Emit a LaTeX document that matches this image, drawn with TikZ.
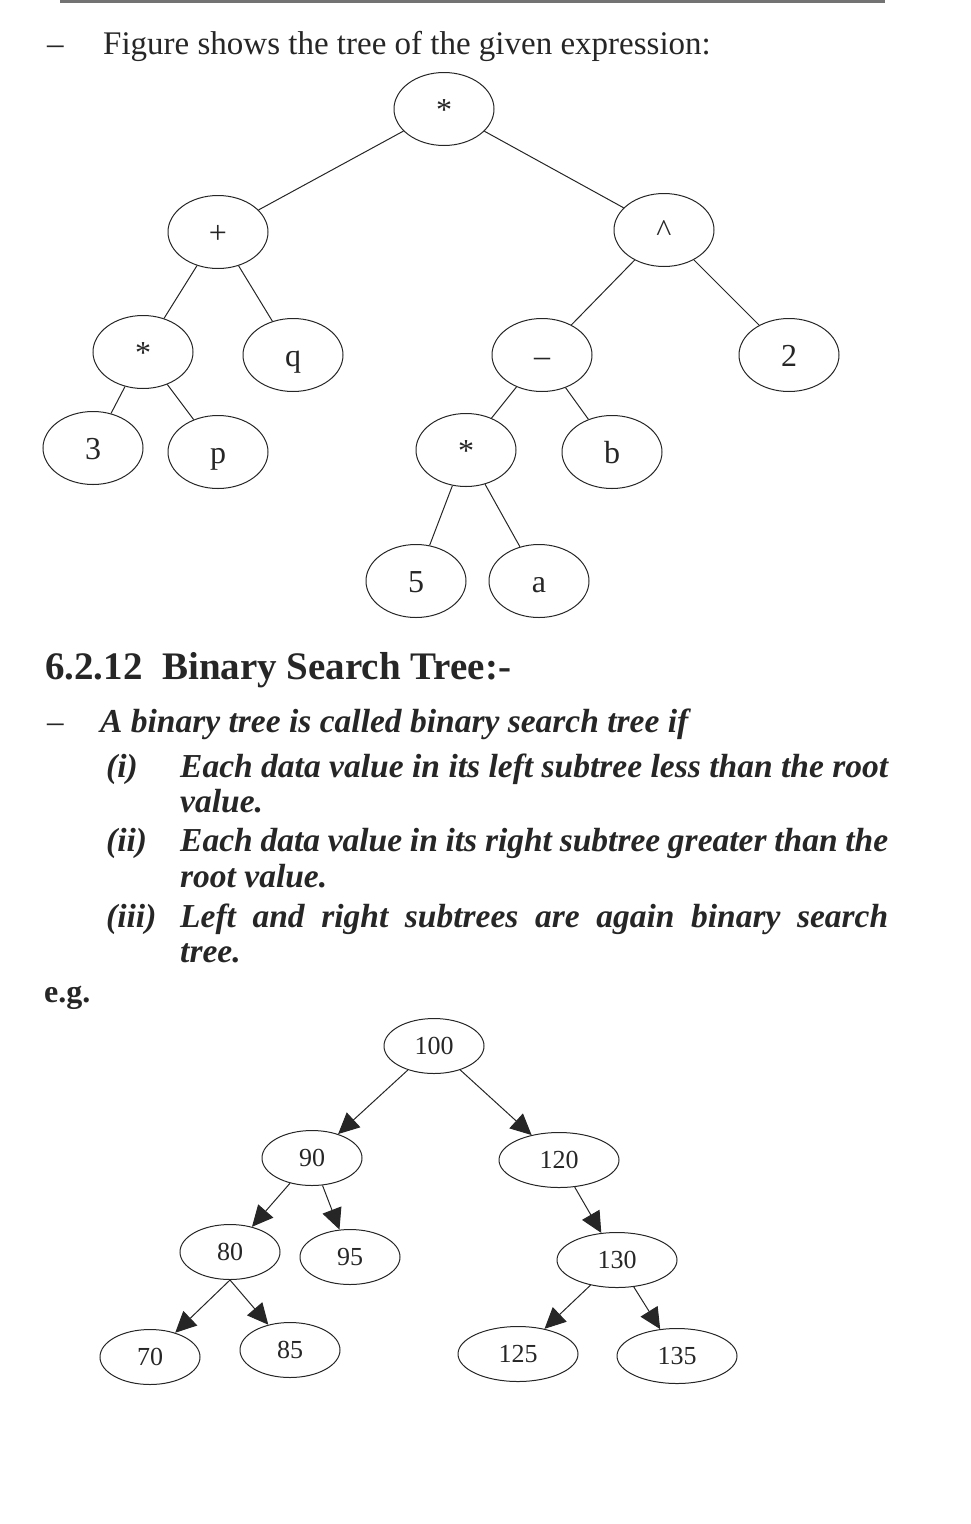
\documentclass[tikz,border=0pt]{standalone}
\usepackage{fontspec}
\setmainfont{Liberation Serif}
\usetikzlibrary{shapes.geometric,arrows.meta}

\begin{document}
\begin{tikzpicture}[x=1pt, y=-1pt, black!85,
  enode/.style={draw, ellipse, line width=1pt, minimum width=100pt, minimum height=73pt, inner sep=0pt, text height=22pt, text depth=0pt, font=\fontsize{32}{32}\selectfont},
  bnode/.style={draw, ellipse, line width=1pt, minimum width=100pt, minimum height=55pt, inner sep=0pt, font=\fontsize{26}{26}\selectfont},
  wnode/.style={bnode, minimum width=120pt},
  tline/.style={line width=1pt},
  barrow/.style={line width=1pt, -{Triangle[length=21pt,width=20pt]}},
  txt/.style={anchor=base west, inner sep=0pt, font=\fontsize{33}{33}\selectfont},
  itxt/.style={txt, font=\fontsize{33.5}{33.5}\selectfont\bfseries\itshape}
  ]
\useasboundingbox (0,0) rectangle (971,1524);
\draw[line width=3pt, black!55] (60,1) -- (885,1);

\node[txt] (dash1) at (47,54) {--};
\node[txt] (intro) at (103,54) {Figure shows the tree of the given expression:};

% expression tree
\node[enode] (r) at (444,109) {*};
\node[enode] (plus) at (218,232) {+};
\node[enode] (caret) at (664,230) {\textasciicircum};
\node[enode] (m1) at (143,352) {*};
\node[enode] (q) at (293,355) {q};
\node[enode] (minus) at (542,355) {--};
\node[enode] (two) at (789,355) {2};
\node[enode] (three) at (93,448) {3};
\node[enode] (p) at (218,452) {p};
\node[enode] (m2) at (466,450) {*};
\node[enode] (b) at (612,452) {b};
\node[enode] (five) at (416,581) {5};
\node[enode] (a) at (539,581) {a};
\draw[tline] (r) -- (plus);
\draw[tline] (r) -- (caret);
\draw[tline] (plus) -- (m1);
\draw[tline] (plus) -- (q);
\draw[tline] (caret) -- (minus);
\draw[tline] (caret) -- (two);
\draw[tline] (m1) -- (three);
\draw[tline] (m1) -- (p);
\draw[tline] (minus) -- (m2);
\draw[tline] (minus) -- (b);
\draw[tline] (m2) -- (five);
\draw[tline] (m2) -- (a);

\node[txt, font=\fontsize{39}{39}\selectfont\bfseries] (head) at (45,679) {6.2.12\ \ Binary Search Tree:-};
\node[txt] (dash2) at (47,732) {--};
\node[itxt] (def) at (100,732) {A binary tree is called binary search tree if};
\node[itxt] (i1) at (106,777) {(i)};
\node[itxt] (i1a) at (180,777) {\makebox[708pt][s]{Each data value in its left subtree less than the root}};
\node[itxt] (i1b) at (180,812) {value.};
\node[itxt] (i2) at (106,851) {(ii)};
\node[itxt] (i2a) at (180,851) {\makebox[708pt][s]{Each data value in its right subtree greater than the}};
\node[itxt] (i2b) at (180,887) {root value.};
\node[itxt] (i3) at (106,927) {(iii)};
\node[itxt] (i3a) at (180,927) {\makebox[708pt][s]{Left and right subtrees are again binary search}};
\node[itxt] (i3b) at (180,962) {tree.};
\node[txt, font=\fontsize{32}{32}\selectfont\bfseries] (eg) at (44,1002) {e.g.};

% binary search tree
\node[bnode] (n100) at (434,1046) {100};
\node[bnode] (n90) at (312,1158) {90};
\node[wnode] (n120) at (559,1160) {120};
\node[bnode] (n80) at (230,1252) {80};
\node[bnode] (n95) at (350,1257) {95};
\node[wnode] (n130) at (617,1260) {130};
\node[bnode] (n70) at (150,1357) {70};
\node[bnode] (n85) at (290,1350) {85};
\node[wnode] (n125) at (518,1354) {125};
\node[wnode] (n135) at (677,1356) {135};
\draw[barrow] (n100) -- (n90);
\draw[barrow] (n100) -- (n120);
\draw[barrow] (n90) -- (n80);
\draw[barrow] (n90) -- (n95);
\draw[barrow] (n120) -- (n130);
\draw[barrow] (n80.south) -- (n70);
\draw[barrow] (n80.south) -- (n85);
\draw[barrow] (n130) -- (n125);
\draw[barrow] (n130) -- (n135);
\end{tikzpicture}
\end{document}
